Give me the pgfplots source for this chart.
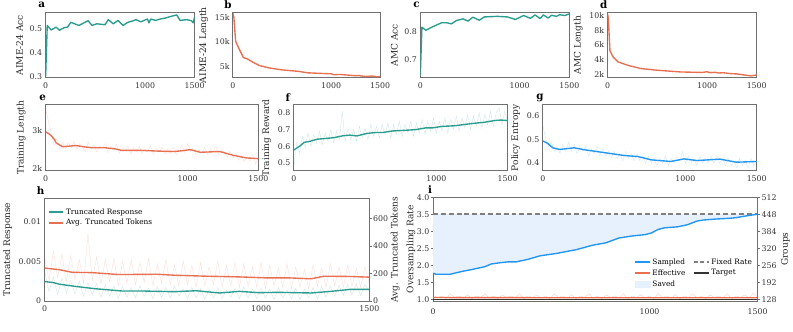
\documentclass[border=0pt]{standalone}
\usepackage{fontspec}
\setmainfont{DejaVu Serif}
\usepackage{pgfplots}
\usepackage{pgfplotstable}
\pgfplotsset{compat=1.18}

\definecolor{cteal}{HTML}{2A9D8F}
\definecolor{corange}{HTML}{E96F51}
\definecolor{cblue}{HTML}{2196F3}
\definecolor{csaved}{HTML}{E6F1FD}
\definecolor{cframe}{HTML}{707070}
\definecolor{cdark}{HTML}{333333}

% raw (noisy) training curves, every 20 steps
% s: step, e: train length (k), f: reward, g: entropy,
% ht: truncated response, ha: avg truncated tokens, ie: effective rate
\pgfplotstableread{
s e f g ht ha ie
0 3.60 0.47 0.56 0.0038 320 1.13
20 3.25 0.62 0.50 0.0012 150 1.04
40 2.95 0.56 0.47 0.0030 360 1.10
60 2.62 0.66 0.49 0.0008 170 1.02
80 2.78 0.59 0.45 0.0029 340 1.16
100 2.50 0.68 0.47 0.0010 140 1.06
120 2.70 0.60 0.44 0.0026 330 1.10
140 2.52 0.67 0.48 0.0009 160 1.04
160 2.68 0.62 0.45 0.0025 300 1.13
180 2.55 0.69 0.49 0.0006 130 1.02
200 2.72 0.61 0.45 0.0023 490 1.10
220 2.50 0.68 0.48 0.0008 150 1.06
240 2.66 0.63 0.44 0.0022 320 1.16
260 2.58 0.70 0.47 0.0005 120 1.04
280 2.45 0.62 0.45 0.0020 300 1.10
300 2.70 0.69 0.47 0.0006 140 1.02
320 2.52 0.64 0.43 0.0019 310 1.13
340 2.62 0.81 0.46 0.0003 110 1.06
360 2.44 0.63 0.44 0.0018 290 1.10
380 2.60 0.71 0.47 0.0005 130 1.04
400 2.55 0.64 0.43 0.0017 300 1.16
420 2.66 0.70 0.46 0.0004 120 1.02
440 2.42 0.63 0.43 0.0019 280 1.10
460 2.58 0.72 0.45 0.0006 140 1.06
480 2.50 0.65 0.42 0.0016 310 1.13
500 2.64 0.71 0.45 0.0003 110 1.04
520 2.40 0.64 0.42 0.0018 270 1.10
540 2.55 0.73 0.44 0.0005 130 1.02
560 2.47 0.66 0.41 0.0017 300 1.16
580 2.60 0.72 0.45 0.0004 120 1.06
600 2.38 0.65 0.42 0.0019 260 1.10
620 2.56 0.73 0.44 0.0006 110 1.04
640 2.45 0.67 0.41 0.0015 290 1.13
660 2.58 0.74 0.44 0.0003 120 1.02
680 2.40 0.65 0.41 0.0017 260 1.10
700 2.52 0.73 0.43 0.0004 100 1.06
720 2.46 0.67 0.40 0.0016 280 1.16
740 2.60 0.75 0.43 0.0002 110 1.04
760 2.37 0.66 0.40 0.0015 250 1.10
780 2.54 0.73 0.42 0.0004 120 1.02
800 2.44 0.68 0.39 0.0017 290 1.13
820 2.56 0.75 0.42 0.0003 100 1.06
840 2.38 0.66 0.40 0.0014 260 1.10
860 2.52 0.74 0.43 0.0005 110 1.04
880 2.42 0.68 0.39 0.0016 280 1.16
900 2.57 0.76 0.42 0.0003 100 1.02
920 2.36 0.67 0.40 0.0018 270 1.10
940 2.50 0.75 0.43 0.0004 110 1.06
960 2.62 0.69 0.41 0.0015 250 1.13
980 2.42 0.77 0.45 0.0003 100 1.04
1000 2.66 0.68 0.40 0.0016 280 1.10
1020 2.45 0.75 0.43 0.0004 90 1.02
1040 2.55 0.69 0.40 0.0015 260 1.16
1060 2.36 0.77 0.42 0.0002 110 1.06
1080 2.50 0.68 0.39 0.0017 240 1.10
1100 2.40 0.76 0.43 0.0004 100 1.04
1120 2.55 0.70 0.40 0.0014 270 1.13
1140 2.38 0.78 0.42 0.0003 90 1.02
1160 2.52 0.69 0.40 0.0016 250 1.10
1180 2.44 0.77 0.43 0.0002 100 1.06
1200 2.58 0.71 0.40 0.0015 230 1.16
1220 2.37 0.79 0.43 0.0004 90 1.04
1240 2.50 0.70 0.40 0.0017 260 1.10
1260 2.43 0.78 0.42 0.0003 110 1.02
1280 2.30 0.72 0.39 0.0018 240 1.13
1300 2.46 0.80 0.42 0.0005 100 1.06
1320 2.28 0.71 0.39 0.0019 270 1.10
1340 2.40 0.79 0.41 0.0006 110 1.04
1360 2.22 0.73 0.38 0.0020 250 1.16
1380 2.35 0.81 0.42 0.0007 100 1.02
1400 2.18 0.72 0.39 0.0021 260 1.10
1420 2.32 0.80 0.41 0.0008 110 1.06
1440 2.20 0.83 0.38 0.0022 240 1.13
1460 2.36 0.73 0.42 0.0007 100 1.04
1480 2.12 0.81 0.39 0.0021 250 1.19
1500 2.30 0.74 0.41 0.0012 130 1.06
}\rawdata

\pgfplotsset{
  panel/.style={
    scale only axis,
    anchor=south west,
    xmin=0, xmax=1500,
    xtick={0,1000,1500}, xticklabels={0,1000,1500},
    xticklabel style={yshift=-1.5pt},
    scaled ticks=false,
    major tick length=0pt,
    axis line style={draw=cframe, line width=1pt},
    tick label style={font=\fontsize{8}{9}\selectfont, text=black!80},
    label style={font=\fontsize{9.2}{10}\selectfont, text=black!85},
    /pgf/number format/assume math mode=true,
  },
  outticks/.style={major tick length=2.5pt, tick align=outside,
    xtick style={draw=none},
    ytick style={draw=cframe, line width=0.8pt}},
  raw/.style={line width=0.4pt, opacity=0.22, forget plot},
  sm/.style={line width=1.4pt, line join=round, forget plot},
  limg/.style={legend image code/.code={\draw[##1] (0pt,0pt) -- (15pt,0pt);}},
}

\begin{document}
\begin{tikzpicture}
\path (0pt,0pt) rectangle (793pt,-338pt);

% ---- row 1 ----
\begin{axis}[panel, at={(36pt,-79pt)}, width=152pt, height=66pt,
  ymin=0.295, ymax=0.565, ytick={0.3,0.4,0.5}, yticklabels={0.3,0.4,0.5},
  ylabel={AIME-24 Acc}]
\addplot[sm, cteal] coordinates {(0,0.30)(16,0.512)(56,0.493)(105,0.505)(138,0.492)(187,0.503)(220,0.505)(253,0.525)(335,0.512)(427,0.532)(466,0.512)(515,0.519)(597,0.515)(630,0.536)(680,0.519)(729,0.533)(778,0.512)(827,0.525)(876,0.531)(909,0.536)(958,0.527)(1024,0.539)(1040,0.523)(1057,0.539)(1106,0.533)(1155,0.539)(1205,0.543)(1254,0.549)(1319,0.556)(1352,0.533)(1418,0.536)(1467,0.532)(1484,0.523)(1500,0.549)};
\end{axis}

\begin{axis}[panel, at={(227pt,-79pt)}, width=150pt, height=66pt,
  ymin=2.75, ymax=15.9, ytick={5,10,15}, yticklabels={5k,10k,15k},
  ylabel={AIME-24 Length}]
\addplot[sm, corange] coordinates {(0,15.8)(9,15.0)(27,10.1)(66,8.4)(106,6.8)(149,6.5)(199,5.9)(266,5.2)(365,4.7)(498,4.3)(664,4.0)(764,3.7)(930,3.55)(1000,3.5)(1030,3.3)(1062,3.35)(1100,3.35)(1195,3.2)(1250,3.1)(1280,3.15)(1328,3.0)(1350,2.95)(1420,3.05)(1460,2.9)(1493,2.9)(1500,2.95)};
\end{axis}

\begin{axis}[panel, at={(418pt,-79pt)}, width=152pt, height=66pt,
  ymin=0.635, ymax=0.868, ytick={0.7,0.8}, yticklabels={0.7,0.8},
  ylabel={AMC Acc}]
\addplot[sm, cteal] coordinates {(0,0.643)(16,0.816)(56,0.805)(115,0.816)(214,0.832)(264,0.832)(313,0.828)(363,0.84)(429,0.846)(479,0.838)(528,0.852)(594,0.841)(644,0.853)(776,0.855)(875,0.853)(957,0.844)(1040,0.858)(1106,0.848)(1155,0.86)(1205,0.847)(1238,0.86)(1287,0.849)(1320,0.859)(1370,0.855)(1403,0.861)(1452,0.858)(1500,0.864)};
\end{axis}

\begin{axis}[panel, at={(609pt,-79pt)}, width=152pt, height=66pt,
  ymin=1.6, ymax=10.36, ytick={2,4,6,8,10}, yticklabels={2k,4k,6k,8k,10k},
  ylabel={AMC Length}]
\addplot[sm, corange] coordinates {(0,10.2)(7,9.5)(23,5.2)(56,4.35)(106,3.7)(205,3.24)(337,2.8)(502,2.58)(733,2.35)(950,2.28)(1000,2.38)(1030,2.25)(1080,2.3)(1120,2.2)(1160,2.25)(1228,2.13)(1300,2.08)(1393,1.9)(1443,1.82)(1500,1.95)};
\end{axis}

% ---- row 2 ----
\begin{axis}[panel, at={(36pt,-174pt)}, width=217pt, height=67pt,
  ymin=1.94, ymax=3.69, ytick={2,3}, yticklabels={2k,3k},
  ylabel={Training Length}]
\addplot[raw, corange] table[x=s, y=e] {\rawdata};
\addplot[sm, corange] coordinates {(0,2.97)(20,2.93)(39,2.87)(60,2.78)(74,2.68)(100,2.62)(120,2.58)(160,2.59)(212,2.61)(260,2.58)(328,2.55)(420,2.55)(489,2.52)(536,2.48)(674,2.48)(800,2.46)(905,2.45)(960,2.47)(1020,2.50)(1089,2.43)(1160,2.44)(1228,2.45)(1320,2.35)(1412,2.28)(1500,2.26)};
\end{axis}

\begin{axis}[panel, at={(289pt,-174pt)}, width=218pt, height=67pt,
  ymin=0.455, ymax=0.847, ytick={0.5,0.6,0.7,0.8}, yticklabels={0.5,0.6,0.7,0.8},
  ylabel={Training Reward}]
\addplot[raw, cteal] table[x=s, y=f] {\rawdata};
\addplot[sm, cteal] coordinates {(0,0.578)(39,0.60)(74,0.624)(108,0.629)(166,0.643)(235,0.648)(281,0.652)(350,0.664)(396,0.667)(442,0.662)(511,0.677)(580,0.683)(626,0.683)(695,0.692)(787,0.696)(856,0.70)(925,0.71)(971,0.71)(1040,0.719)(1132,0.723)(1201,0.731)(1270,0.738)(1339,0.744)(1408,0.754)(1454,0.757)(1500,0.754)};
\end{axis}

\begin{axis}[panel, at={(543pt,-174pt)}, width=218pt, height=67pt,
  ymin=0.368, ymax=0.647, ytick={0.4,0.5,0.6}, yticklabels={0.4,0.5,0.6},
  ylabel={Policy Entropy}]
\addplot[raw, cblue] table[x=s, y=g] {\rawdata};
\addplot[sm, cblue] coordinates {(0,0.494)(35,0.483)(69,0.465)(115,0.458)(219,0.465)(299,0.456)(437,0.444)(575,0.432)(667,0.428)(759,0.414)(897,0.407)(989,0.418)(1081,0.411)(1242,0.417)(1357,0.404)(1500,0.407)};
\end{axis}

% ---- row 3: h ----
\begin{axis}[panel, at={(35pt,-307pt)}, width=331pt, height=105pt,
  ymin=0, ymax=0.0129, ytick={0,0.005,0.01}, yticklabels={0,0.005,0.01},
  ylabel={Truncated Response}]
\addplot[raw, cteal] table[x=s, y=ht] {\rawdata};
\addplot[sm, cteal] coordinates {(0,0.00245)(38,0.00233)(68,0.00212)(143,0.00184)(234,0.00155)(355,0.00127)(445,0.00127)(596,0.00118)(700,0.0013)(808,0.00102)(899,0.00122)(989,0.00106)(1080,0.0011)(1231,0.00102)(1322,0.00122)(1412,0.00147)(1500,0.00147)};
\end{axis}
\begin{axis}[panel, outticks, at={(35pt,-307pt)}, width=331pt, height=105pt,
  axis x line=none, axis y line*=right,
  ymin=0, ymax=748, ytick={0,200,400,600}, yticklabels={0,200,400,600},
  yticklabel style={inner sep=1.2pt},
  ylabel={Avg. Truncated Tokens},
  ylabel style={at={(axis description cs:1.08,0.5)}, anchor=center},
  legend style={draw=none, fill=none, at={(0.0,0.94)}, anchor=north west,
    font=\fontsize{7.5}{8.5}\selectfont, row sep=0pt},
  legend cell align=left, limg]
\addplot[raw, corange] table[x=s, y=ha] {\rawdata};
\addplot[sm, corange] coordinates {(0,240)(68,228)(128,209)(219,207)(340,193)(521,195)(600,188)(747,181)(898,176)(1019,169)(1125,169)(1231,162)(1291,181)(1412,179)(1500,174)};
\addlegendimage{line width=1.6pt, cteal}
\addlegendentry{Truncated Response}
\addlegendimage{line width=1.6pt, corange}
\addlegendentry{Avg. Truncated Tokens}
\end{axis}

% ---- row 3: i ----
\begin{axis}[panel, outticks, ytick pos=left, at={(431pt,-307pt)}, width=331pt, height=106pt,
  ymin=0.95, ymax=4.0, ytick={1,1.5,2,2.5,3,3.5,4},
  yticklabels={1.0,1.5,2.0,2.5,3.0,3.5,4.0},
  yticklabel style={inner sep=1.2pt},
  ylabel={Oversampling Rate},
  ylabel style={at={(axis description cs:-0.068,0.5)}, anchor=center},
  legend style={draw=none, fill=none, at={(0.61,0.45)}, anchor=north west,
    font=\fontsize{7.5}{8.5}\selectfont, legend columns=2,
    /tikz/every even column/.append style={column sep=6pt}},
  legend cell align=left, limg]
% saved area: between the sampled rate and the fixed rate 3.5
\addplot[fill=csaved, draw=none, forget plot] coordinates {(0,1.77)(12,1.74)(80,1.74)(133,1.82)(178,1.875)(239,1.96)(269,2.04)(314,2.08)(344,2.10)(382,2.10)(435,2.17)(495,2.28)(571,2.35)(662,2.46)(737,2.59)(798,2.66)(858,2.80)(918,2.86)(979,2.90)(1009,2.95)(1039,3.05)(1069,3.10)(1130,3.13)(1175,3.19)(1220,3.30)(1250,3.33)(1311,3.36)(1371,3.38)(1401,3.40)(1447,3.45)(1500,3.50)(0,3.5)};
\addplot[draw=gray, line width=1.5pt, dash pattern=on 5pt off 3pt, forget plot] coordinates {(0,3.5)(1500,3.5)};
\addplot[raw, corange, opacity=0.35] table[x=s, y=ie] {\rawdata};
\addplot[line width=1.4pt, cdark, forget plot] coordinates {(0,1.0)(1500,1.0)};
\addplot[sm, corange] coordinates {(0,1.055)(500,1.05)(1000,1.05)(1500,1.05)};
\addplot[sm, cblue] coordinates {(0,1.77)(12,1.74)(80,1.74)(133,1.82)(178,1.875)(239,1.96)(269,2.04)(314,2.08)(344,2.10)(382,2.10)(435,2.17)(495,2.28)(571,2.35)(662,2.46)(737,2.59)(798,2.66)(858,2.80)(918,2.86)(979,2.90)(1009,2.95)(1039,3.05)(1069,3.10)(1130,3.13)(1175,3.19)(1220,3.30)(1250,3.33)(1311,3.36)(1371,3.38)(1401,3.40)(1447,3.45)(1500,3.50)};
\addlegendimage{line width=1.6pt, cblue}
\addlegendentry{Sampled}
\addlegendimage{line width=1.5pt, gray, dash pattern=on 4pt off 2.5pt}
\addlegendentry{Fixed Rate}
\addlegendimage{line width=1.6pt, corange}
\addlegendentry{Effective}
\addlegendimage{line width=1.6pt, cdark}
\addlegendentry{Target}
\addlegendimage{legend image code/.code={\fill[csaved] (0pt,-3pt) rectangle (15pt,3pt);}}
\addlegendentry{Saved}
\end{axis}
\begin{axis}[panel, outticks, at={(431pt,-307pt)}, width=331pt, height=106pt,
  axis x line=none, axis y line*=right,
  ymin=121.6, ymax=512, ytick={128,192,256,320,384,448,512},
  yticklabels={128,192,256,320,384,448,512},
  yticklabel style={inner sep=1.2pt},
  ylabel={Groups}]
\addplot[draw=none] coordinates {(0,128)(1500,512)};
\end{axis}

% panel letters
\begin{scope}[every node/.style={font=\fontsize{10.5}{11}\selectfont\bfseries, inner sep=0pt}]
\node at (32pt,-5pt) {a};
\node at (222pt,-5pt) {b};
\node at (414pt,-5pt) {c};
\node at (605pt,-5pt) {d};
\node at (33pt,-100pt) {e};
\node at (283pt,-100pt) {f};
\node at (540pt,-100pt) {g};
\node at (31pt,-194pt) {h};
\node at (428pt,-193pt) {i};
\end{scope}
\end{tikzpicture}
\end{document}
